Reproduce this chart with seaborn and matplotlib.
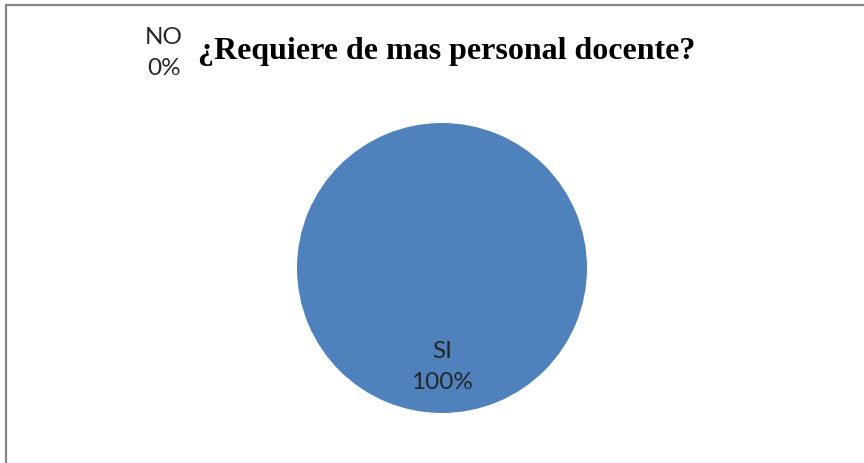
import matplotlib.pyplot as plt
import numpy as np
import pandas as pd
import seaborn as sns
from matplotlib.patches import Rectangle

# Chart data
categories = ["SI", "NO"]
values = [100, 0]
title = "¿Requiere de mas personal docente?"

sns.set_theme(style="white")
plt.rcParams["font.family"] = ["Lato", "DejaVu Sans"]

W, H = 864, 463
fig = plt.figure(figsize=(W / 100, H / 100), dpi=100)
fig.patch.set_facecolor("white")

# axes placed so the pie sits where it does in the reference
cx, cy, r = 442, 268, 145
ax = fig.add_axes([(cx - r) / W, (H - cy - r) / H, 2 * r / W, 2 * r / H])

df = pd.DataFrame({"cat": categories, "val": values})
colors = ["#4F81BD", "#C0504D"]
wedges, _ = ax.pie(
    df["val"],
    startangle=90,
    counterclock=False,
    colors=colors,
    wedgeprops=dict(linewidth=0),
)
ax.set_xlim(-1, 1)
ax.set_ylim(-1, 1)
ax.set_aspect("equal")

# data labels
total = df["val"].sum()
lbl = dict(ha="center", va="center", fontsize=17.5, color="#262626",
           linespacing=1.6)
for w, (cat, val) in zip(wedges, df.itertuples(index=False)):
    pct = f"{100 * val / total:.0f}%"
    if val > 0:
        ax.text(0.0, -0.685, f"{cat}\n{pct}", **lbl)
    else:
        fig.text(164 / W, 1 - 53 / H, f"{cat}\n{pct}", **lbl)

fig.text(447 / W, 1 - 51 / H, title, ha="center", va="center",
         fontsize=23, fontweight="bold", family="Liberation Serif", color="black")

# outer chart border (only top and left visible)
fig.patches.append(Rectangle((6 / W, -0.05), 1.1, 1 - 5 / H + 0.05,
                             transform=fig.transFigure, fill=False,
                             edgecolor="#878787", linewidth=1.6))

fig.savefig("out.png", dpi=100)
